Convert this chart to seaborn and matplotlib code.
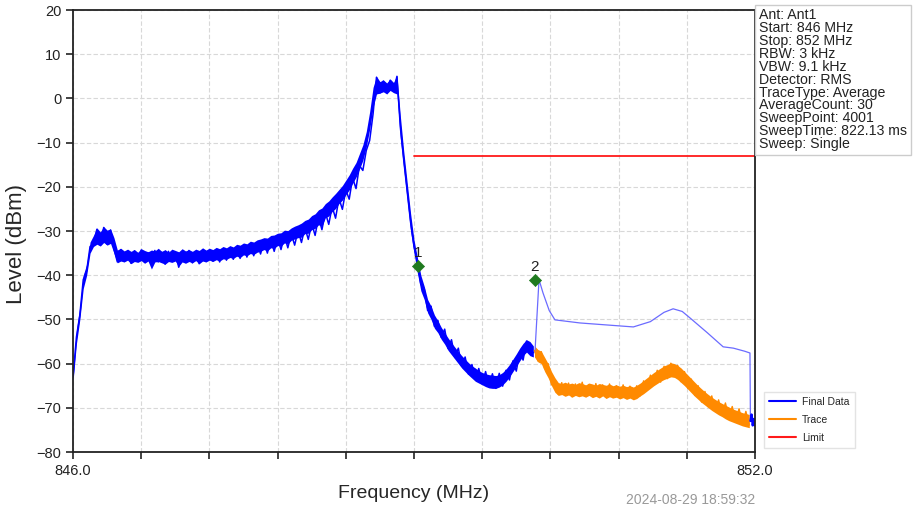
import matplotlib
matplotlib.use('Agg')
import matplotlib.pyplot as plt
import seaborn as sns
import numpy as np
import pandas as pd

# --- data ---
# Final Data, noisy part (sweep grid 846.00 .. 850.05 MHz): trace samples
final_noisy_level = [
    -63.0, -54.0, -49.0, -41.0, -39.0, -33.5, -33.0, -29.6, -33.2, -29.2,
    -33.0, -29.8, -34.0, -37.0, -34.2, -36.9, -34.6, -37.3, -34.5, -36.8,
    -34.3, -37.1, -34.9, -37.4, -34.4, -37.0, -34.8, -37.5, -34.6, -36.9,
    -34.9, -38.2, -34.7, -37.1, -34.4, -37.2, -35.0, -37.4, -34.5, -36.9,
    -34.3, -36.8, -34.6, -37.0, -34.1, -36.6, -33.9, -36.4, -33.6, -36.2,
    -33.3, -35.9, -33.0, -35.6, -32.7, -35.2, -32.3, -35.0, -31.9, -34.6,
    -31.6, -34.2, -31.0, -33.8, -30.6, -33.2, -29.9, -32.6, -29.2, -31.9,
    -28.3, -31.0, -26.9, -29.7, -25.8, -28.5, -24.5, -27.1, -22.6, -25.1,
    -20.7, -22.8, -18.0, -20.4, -15.2, -16.3, -11.8, -9.5, -3.5, 4.8,
    1.2, 3.9, 1.4, 4.1, 1.6, 5.0, -6.5, -14.0, -21.0, -28.0,
    -33.5, -37.0, -42.0, -43.0, -48.0, -47.0, -51.6, -50.2, -54.1, -52.2,
    -56.6, -54.6, -58.6, -56.5, -60.6, -58.5, -62.4, -60.2, -63.6, -61.1,
    -64.6, -61.8, -65.2, -62.3, -65.6, -62.2, -65.1, -61.5, -63.7, -59.4,
    -61.7, -57.4, -59.2, -54.9, -57.6, -57.5,
]
# upper / lower edge of the noise band on the same grid
final_band_hi = [
    -61.0, -52.5, -47.0, -40.0, -37.5, -32.5, -31.0, -29.3, -30.2, -29.0,
    -29.8, -29.5, -31.5, -34.3, -33.9, -34.5, -34.1, -34.6, -34.2, -34.8,
    -34.0, -34.4, -34.7, -34.3, -34.5, -33.9, -34.6, -34.2, -34.8, -34.1,
    -34.4, -34.7, -34.0, -34.5, -34.2, -34.6, -34.1, -34.4, -33.8, -34.3,
    -33.9, -34.2, -33.7, -34.0, -33.5, -33.8, -33.3, -33.6, -33.0, -33.2,
    -32.7, -32.9, -32.3, -32.5, -32.0, -31.8, -31.5, -31.6, -31.0, -30.9,
    -30.5, -30.4, -29.8, -29.9, -29.3, -28.9, -28.6, -28.2, -27.6, -27.3,
    -26.5, -26.1, -25.2, -24.8, -23.8, -23.2, -22.3, -21.5, -20.6, -19.7,
    -18.5, -17.3, -15.8, -14.5, -12.5, -10.5, -7.5, -3.0, 2.5, 5.0,
    3.8, 4.2, 3.5, 4.4, 3.6, 5.2, -4.0, -12.0, -19.0, -26.0,
    -32.0, -36.0, -40.0, -42.5, -45.5, -47.0, -49.0, -50.3, -51.8, -53.0,
    -54.2, -55.3, -56.3, -57.3, -58.2, -59.0, -59.8, -60.5, -61.0, -61.6,
    -62.0, -62.3, -62.5, -62.6, -62.7, -62.5, -62.0, -61.2, -60.2, -59.0,
    -57.8, -56.5, -55.4, -54.6, -55.0, -56.0,
]
final_band_lo = [
    -64.0, -55.5, -50.0, -43.0, -40.0, -35.0, -33.5, -33.0, -33.4, -32.6,
    -33.2, -32.8, -35.0, -37.2, -36.8, -37.0, -36.6, -37.4, -36.9, -37.1,
    -36.7, -37.3, -36.8, -38.6, -37.0, -36.9, -37.2, -37.5, -36.9, -37.1,
    -36.8, -38.0, -37.0, -37.3, -36.9, -37.2, -36.7, -37.4, -36.8, -37.0,
    -36.6, -36.9, -36.5, -36.8, -36.3, -36.4, -36.0, -36.2, -35.7, -36.0,
    -35.4, -35.6, -35.1, -35.3, -34.8, -34.6, -34.2, -34.5, -33.8, -33.9,
    -33.3, -33.4, -32.7, -32.9, -32.1, -31.8, -31.5, -31.4, -30.6, -30.5,
    -29.7, -29.4, -28.6, -28.9, -27.0, -26.6, -25.6, -24.9, -23.8, -23.0,
    -21.8, -20.7, -19.2, -17.8, -16.0, -14.0, -11.0, -7.0, -2.0, 1.0,
    1.2, 1.5, 1.0, 1.8, 1.3, 1.0, -9.0, -16.0, -23.0, -30.0,
    -35.0, -39.5, -43.5, -45.5, -48.5, -50.0, -52.0, -53.0, -54.5, -55.6,
    -57.0, -58.0, -59.0, -60.0, -61.0, -61.8, -62.6, -63.3, -64.0, -64.4,
    -64.8, -65.2, -65.5, -65.6, -65.6, -65.3, -64.8, -64.0, -63.0, -61.8,
    -60.6, -59.4, -58.2, -57.4, -58.2, -58.5,
]
final_noisy_start, final_noisy_stop = 846.0, 850.05

# Final Data, smooth part
final_smooth_freq = [850.064, 850.10, 850.135, 850.19, 850.24, 850.46, 850.72,
                     850.93, 851.08, 851.20, 851.28, 851.36, 851.43, 851.58,
                     851.72, 851.81, 851.91, 851.956, 851.96]
final_smooth_level = [-57.5, -41.0, -44.0, -48.0, -50.1, -50.8, -51.3,
                      -51.7, -50.5, -48.4, -47.6, -48.2, -49.7, -53.0,
                      -56.2, -56.5, -57.2, -57.6, -73.0]

# Final Data, last few sweep points
final_end_freq = [851.96, 851.97, 851.98, 851.99, 852.0]
final_end_level = [-73.0, -71.5, -74.0, -72.5, -74.0]

# Trace (orange), sweep grid 850.06 .. 851.95 MHz
trace_level = [
    -57.0, -59.4, -57.3, -61.2, -60.0, -64.8, -63.6, -67.0, -64.3, -67.2,
    -64.4, -67.5, -64.6, -67.1, -64.2, -67.4, -64.7, -67.2, -64.5, -67.6,
    -64.8, -67.3, -64.6, -67.7, -65.0, -67.5, -64.8, -67.8, -65.1, -67.9,
    -65.0, -67.3, -63.9, -66.0, -62.6, -64.9, -61.5, -64.2, -60.6, -63.4,
    -59.9, -63.0, -60.4, -64.1, -61.8, -65.6, -63.5, -67.2, -65.0, -68.7,
    -66.3, -69.8, -67.3, -70.7, -68.2, -71.5, -68.9, -72.2, -69.7, -72.8,
    -70.2, -73.5, -70.8, -73.9,
]
trace_band_hi = [
    -56.0, -56.8, -57.2, -58.6, -60.0, -61.8, -63.2, -64.3, -64.5, -64.2,
    -64.6, -64.4, -64.7, -64.3, -64.5, -64.8, -64.4, -64.6, -64.9, -64.5,
    -64.7, -64.9, -64.6, -65.0, -64.8, -65.1, -64.9, -65.2, -65.0, -65.3,
    -64.9, -64.4, -63.8, -63.2, -62.6, -62.0, -61.5, -61.0, -60.5, -60.2,
    -59.8, -60.0, -60.4, -61.0, -61.8, -62.6, -63.4, -64.2, -65.0, -65.7,
    -66.4, -67.0, -67.6, -68.1, -68.6, -69.0, -69.4, -69.8, -70.2, -70.5,
    -70.8, -71.1, -71.3, -71.5,
]
trace_band_lo = [
    -58.5, -59.6, -60.0, -61.8, -63.2, -65.0, -66.5, -67.2, -67.0, -67.4,
    -67.1, -67.6, -67.2, -67.5, -67.3, -67.6, -67.2, -67.7, -67.4, -67.8,
    -67.3, -67.9, -67.5, -67.8, -67.6, -68.0, -67.7, -68.1, -67.8, -68.2,
    -67.9, -67.3, -66.8, -66.2, -65.6, -65.0, -64.5, -64.0, -63.6, -63.3,
    -63.0, -63.1, -63.6, -64.3, -65.0, -65.8, -66.6, -67.4, -68.1, -68.8,
    -69.4, -70.0, -70.6, -71.1, -71.6, -72.0, -72.5, -72.9, -73.2, -73.5,
    -73.8, -74.1, -74.3, -74.5,
]
trace_start, trace_stop = 850.06, 851.95

# Limit line
limit_freq = [849.0, 852.0]
limit_level = [-13.0, -13.0]

# Markers
marker_id = ['1', '2']
marker_freq = [849.035, 850.064]
marker_level = [-37.9, -41.1]

info_lines = ['Ant: Ant1', 'Start: 846 MHz', 'Stop: 852 MHz', 'RBW: 3 kHz',
              'VBW: 9.1 kHz', 'Detector: RMS', 'TraceType: Average',
              'AverageCount: 30', 'SweepPoint: 4001', 'SweepTime: 822.13 ms',
              'Sweep: Single']
timestamp = '2024-08-29 18:59:32'

# --- plot ---
sns.set_theme(style='white')
plt.rcParams['font.family'] = ['Liberation Sans', 'DejaVu Sans']

BLUE = '#0000ff'
ORANGE = '#ff8a00'

fig = plt.figure(figsize=(9.15, 5.08), dpi=100)
ax = fig.add_axes([0.0798, 0.1102, 0.7453, 0.8701])

f_blue = np.linspace(final_noisy_start, final_noisy_stop, len(final_noisy_level))
f_orange = np.linspace(trace_start, trace_stop, len(trace_level))
noisy = pd.DataFrame({'f': f_blue, 'lvl': final_noisy_level,
                      'hi': final_band_hi, 'lo': final_band_lo})
trace = pd.DataFrame({'f': f_orange, 'lvl': trace_level,
                      'hi': trace_band_hi, 'lo': trace_band_lo})

# noise bands
ax.fill_between(noisy['f'], noisy['lo'], noisy['hi'], color=BLUE, lw=0)
ax.fill_between(trace['f'], trace['lo'], trace['hi'], color=ORANGE, lw=0)

sns.lineplot(data=noisy, x='f', y='lvl', ax=ax, color=BLUE, lw=1.1,
             label='Final Data', legend=False, sort=False)
sns.lineplot(x=final_smooth_freq, y=final_smooth_level, ax=ax,
             color='#6b6bff', lw=0.9, legend=False, sort=False)
sns.lineplot(x=final_end_freq, y=final_end_level, ax=ax, color=BLUE,
             lw=1.6, legend=False, sort=False)
sns.lineplot(data=trace, x='f', y='lvl', ax=ax, color=ORANGE, lw=1.0,
             label='Trace', legend=False, sort=False)
sns.lineplot(x=limit_freq, y=limit_level, ax=ax, color='#ff1a1a', lw=1.3,
             label='Limit', legend=False, sort=False)

sns.scatterplot(x=marker_freq, y=marker_level, ax=ax, marker='D', s=38,
                color='#1f7a1f', edgecolor='#1f7a1f', zorder=5, legend=False)
for mid, mf, ml in zip(marker_id, marker_freq, marker_level):
    ax.text(mf, ml + 1.4, mid, ha='center', va='bottom', fontsize=11,
            color='#222222')

ax.set_xlim(846.0, 852.0)
ax.set_ylim(-80, 20)
xt = np.linspace(846.0, 852.0, 11)
ax.set_xticks(xt)
ax.set_xticklabels(['846.0'] + [''] * 9 + ['852.0'])
ax.set_yticks(np.arange(-80, 21, 10))
ax.tick_params(axis='both', direction='out', length=5, width=1.2,
               labelsize=10.5, colors='#222222', bottom=True, left=True)
ax.grid(True, color='#d8d8d8', linestyle=(0, (4, 2)), linewidth=0.8)
for s in ax.spines.values():
    s.set_color('#222222')
    s.set_linewidth(1.3)

ax.set_xlabel('Frequency (MHz)', fontsize=14, labelpad=5)
ax.set_ylabel('Level (dBm)', fontsize=16)
ax.yaxis.set_label_coords(-0.068, 0.47)

handles, labels = ax.get_legend_handles_labels()
leg = fig.legend(handles, labels, loc='lower left',
                 bbox_to_anchor=(0.829, 0.108), fontsize=7.5,
                 frameon=True, fancybox=False, handlelength=2.6,
                 handletextpad=0.6, borderpad=0.5, labelspacing=0.75)
leg.get_frame().set_edgecolor('#dddddd')
for line in leg.get_lines():
    line.set_linewidth(1.5)

fig.text(0.8295, 0.984, '\n'.join(info_lines), ha='left', va='top',
         fontsize=10.2, linespacing=0.9, color='#222222',
         bbox=dict(boxstyle='square,pad=0.25', facecolor='white',
                   edgecolor='#cccccc'))
fig.text(0.825, 0.001, timestamp, ha='right', va='bottom', fontsize=10,
         color='#999999')

fig.savefig('out.png', dpi=100)
